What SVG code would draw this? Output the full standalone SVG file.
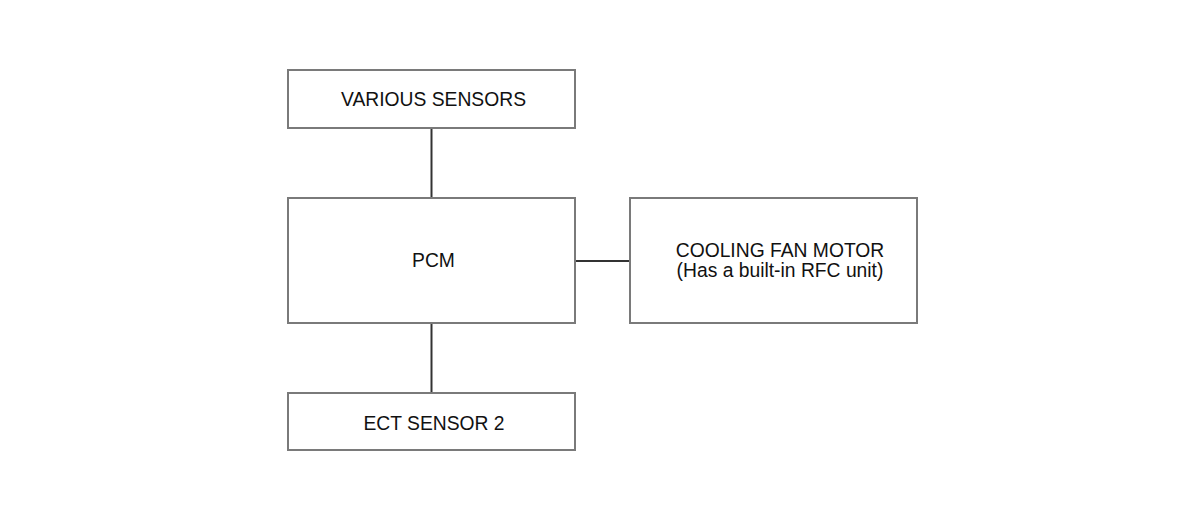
<svg xmlns="http://www.w3.org/2000/svg" width="1200" height="517" viewBox="0 0 1200 517">
<style>
.box{fill:#ffffff;stroke:#7a7a7a;stroke-width:2}
.lbl{font-family:"Liberation Sans",Arial,sans-serif;font-size:19.3px;fill:#111111;text-anchor:middle}
.conn{stroke:#333333;stroke-width:2;fill:none}
</style>
<rect width="1200" height="517" fill="#ffffff"/>
<g id="connectors">
<line class="conn" x1="431.5" y1="128" x2="431.5" y2="198"/>
<line class="conn" x1="431.5" y1="323" x2="431.5" y2="393"/>
<line class="conn" x1="575" y1="261" x2="630" y2="261"/>
</g>
<g id="various-sensors">
<rect class="box" x="288" y="70" width="287" height="58"/>
<text class="lbl" x="433.5" y="106">VARIOUS SENSORS</text>
</g>
<g id="pcm">
<rect class="box" x="288" y="198" width="287" height="125"/>
<text class="lbl" x="433.5" y="267">PCM</text>
</g>
<g id="cooling-fan-motor">
<rect class="box" x="630" y="198" width="287" height="125"/>
<text class="lbl" x="780" y="257">COOLING FAN MOTOR</text>
<text class="lbl" x="780" y="277">(Has a built-in RFC unit)</text>
</g>
<g id="ect-sensor-2">
<rect class="box" x="288" y="393" width="287" height="57"/>
<text class="lbl" x="434" y="430">ECT SENSOR 2</text>
</g>
</svg>
